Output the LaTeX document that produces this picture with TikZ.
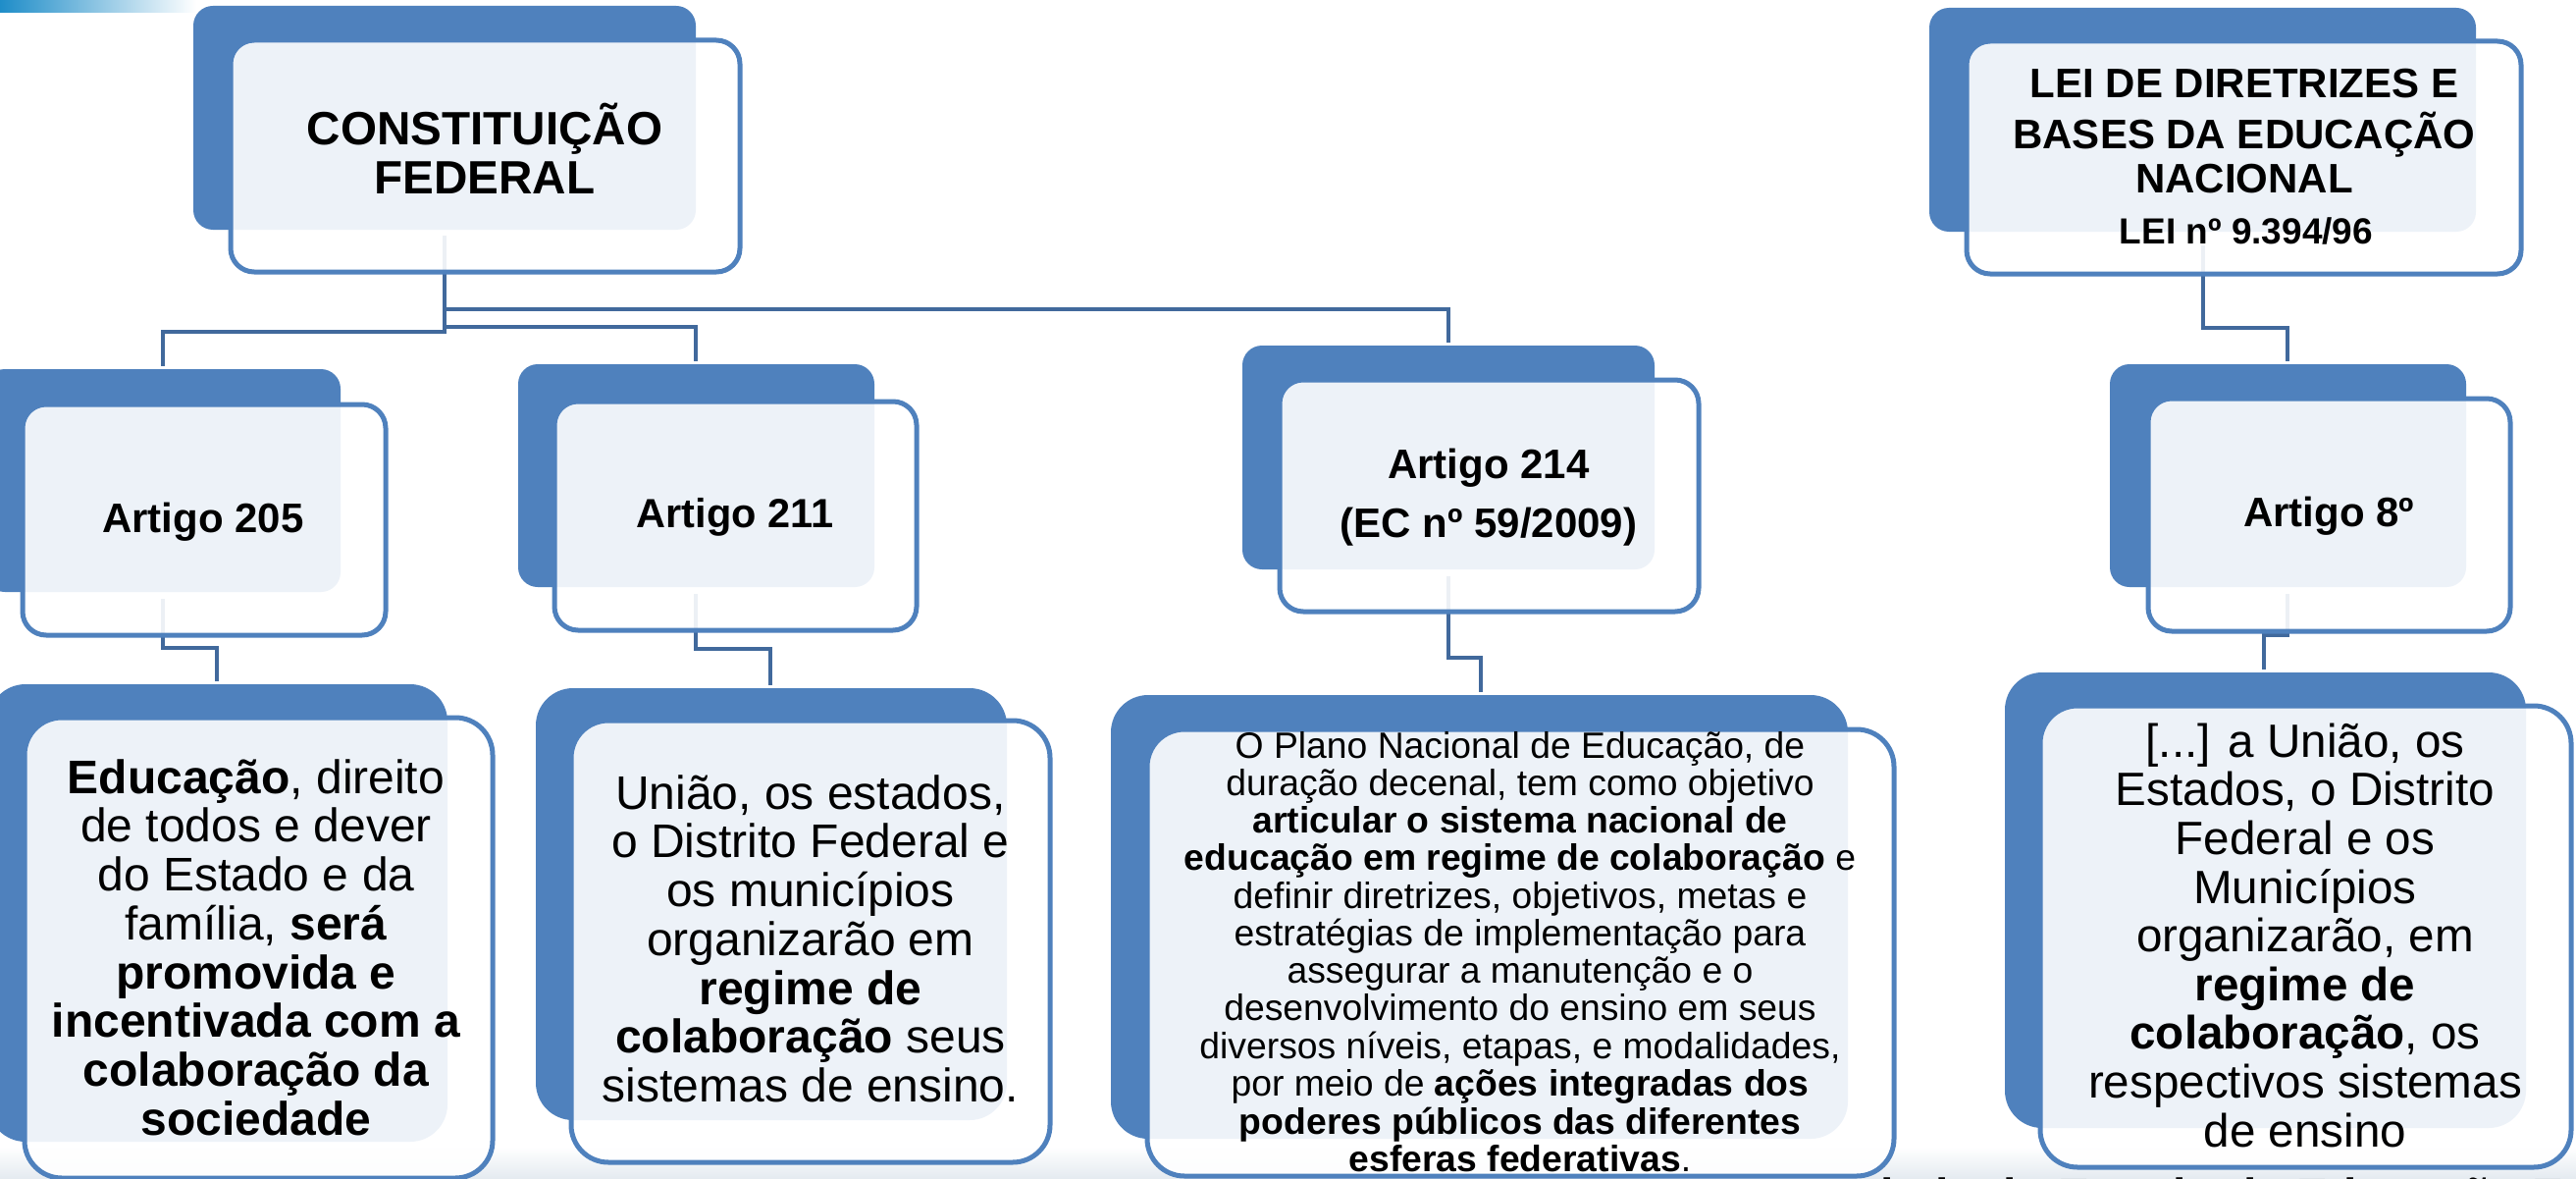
\documentclass[tikz,border=0pt]{standalone}
\usepackage{fontspec}
\setmainfont{Liberation Sans}
\definecolor{boxblue}{HTML}{4F81BD}
\definecolor{lineblue}{HTML}{41699C}
\definecolor{stripblue}{HTML}{1F8DC8}
\definecolor{bandgrey}{HTML}{E4EAF0}
\newcommand\mlines[1]{\begin{tabular}[t]{@{}c@{}}#1\end{tabular}}
\tikzset{
  backrect/.style={fill=boxblue, draw=none},
  frontrect/.style={draw=boxblue, line width=5pt, fill=white, fill opacity=0.9},
  conn/.style={draw=lineblue, line width=4.5pt, line join=miter},
  lbl/.style={anchor=base, inner sep=0pt, text=black},
}
\begin{document}
\begin{tikzpicture}[x=1pt, y=-1pt]
\useasboundingbox (0,0) rectangle (2625,1201);
\fill[white] (0,0) rectangle (2625,1201);
% bottom band
\shade[top color=white, bottom color=bandgrey] (0,1168) rectangle (2625,1201);
% top-left strip
\shade[left color=stripblue, right color=white] (0,0) rectangle (200,13);

% back rectangles
\path[backrect, rounded corners=20pt] (197,6) rectangle (709,234);
\path[backrect, rounded corners=20pt] (-15,376) rectangle (347,603);
\path[backrect, rounded corners=20pt] (528,371) rectangle (891,598);
\path[backrect, rounded corners=20pt] (1266,352) rectangle (1686,580);
\path[backrect, rounded corners=20pt] (1966,8) rectangle (2523,236);
\path[backrect, rounded corners=20pt] (2150,371) rectangle (2513,598);
\path[backrect, rounded corners=38pt] (-12,697) rectangle (456,1163);
\path[backrect, rounded corners=38pt] (546,701) rectangle (1026,1141);
\path[backrect, rounded corners=38pt] (1132,708) rectangle (1883,1160);
\path[backrect, rounded corners=38pt] (2043,685) rectangle (2574,1149);

% connector coordinates
\coordinate (cfS) at (453,240);
\coordinate (j214) at (1476,315);
\coordinate (j211) at (709,333);
\coordinate (j205) at (166,338);
\coordinate (a214T) at (1476,349);
\coordinate (a211T) at (709,368);
\coordinate (a205T) at (166,373);
\coordinate (a205S) at (166,610);
\coordinate (k1) at (221,660);
\coordinate (b1T) at (221,694);
\coordinate (a211S) at (709,605);
\coordinate (k2) at (785,661);
\coordinate (b2T) at (785,698);
\coordinate (a214S) at (1476,587);
\coordinate (k3) at (1509,670);
\coordinate (b3T) at (1509,705);
\coordinate (ldbS) at (2245,250);
\coordinate (k4) at (2331,334);
\coordinate (a8T) at (2331,368);
\coordinate (a8S) at (2331,605);
\coordinate (k5) at (2307,647);
\coordinate (b4T) at (2307,682);

\draw[conn] (cfS) |- (j214) -- (a214T);
\draw[conn] (cfS) |- (j211) -- (a211T);
\draw[conn] (cfS) |- (j205) -- (a205T);
\draw[conn] (a205S) |- (k1) -- (b1T);
\draw[conn] (a211S) |- (k2) -- (b2T);
\draw[conn] (a214S) |- (k3) -- (b3T);
\draw[conn] (ldbS) |- (k4) -- (a8T);
\draw[conn] (a8S) |- (k5) -- (b4T);

% front rectangles
\path[frontrect, rounded corners=24pt] (235,41) rectangle (754,277);
\path[frontrect, rounded corners=24pt] (23,412) rectangle (393,647);
\path[frontrect, rounded corners=24pt] (565,409) rectangle (934,642);
\path[frontrect, rounded corners=24pt] (1304,387) rectangle (1731,623);
\path[frontrect, rounded corners=24pt] (2004,42) rectangle (2569,279);
\path[frontrect, rounded corners=24pt] (2189,406) rectangle (2558,643);
\path[frontrect, rounded corners=38pt] (25,731) rectangle (502,1200);
\path[frontrect, rounded corners=38pt] (582,734) rectangle (1070,1184);
\path[frontrect, rounded corners=38pt] (1169,743) rectangle (1930,1198);
\path[frontrect, rounded corners=38pt] (2079,719) rectangle (2620,1189);

% texts
\node[lbl] (cf) at (494,148) {\fontsize{47.6}{50}\selectfont\bfseries\mlines{CONSTITUIÇÃO\\FEDERAL}};
\node[lbl] (a205) at (207,542) {\fontsize{42}{45}\selectfont\bfseries Artigo 205};
\node[lbl] (a211) at (749,537) {\fontsize{41.5}{45}\selectfont\bfseries Artigo 211};
\node[lbl] (a214) at (1517,487) {\fontsize{42}{60}\selectfont\bfseries\mlines{Artigo 214\\(EC nº 59/2009)}};
\node[lbl] (ldb) at (2287,100) {\fontsize{42}{45.5}\selectfont\bfseries\mlines{LEI DE DIRETRIZES E\\BASES DA EDUCAÇÃO\\NACIONAL}};
\node[lbl] (lei) at (2289,248) {\fontsize{37}{40}\selectfont\bfseries LEI nº 9.394/96};
\node[lbl] (a8) at (2373,536) {\fontsize{42}{45}\selectfont\bfseries Artigo 8º};

\node[lbl] (b1) at (261,808) {\fontsize{48}{49.6}\selectfont\mlines{\textbf{Educação}, direito\\de todos e dever\\do Estado e da\\família, \textbf{será}\\\textbf{promovida e}\\\textbf{incentivada com a}\\\textbf{colaboração da}\\\textbf{sociedade}}};
\node[lbl] (b2) at (826,824) {\fontsize{48}{49.5}\selectfont\mlines{União, os estados,\\o Distrito Federal e\\os municípios\\organizarão em\\\textbf{regime de}\\\textbf{colaboração} seus\\sistemas de ensino.}};
\node[lbl] (b3) at (1549,772) {\fontsize{37.3}{37.4}\selectfont\mlines{O Plano Nacional de Educação, de\\duração decenal, tem como objetivo\\\textbf{articular o sistema nacional de}\\\textbf{educação em regime de colaboração} e\\definir diretrizes, objetivos, metas e\\estratégias de implementação para\\assegurar a manutenção e o\\desenvolvimento do ensino em seus\\diversos níveis, etapas, e modalidades,\\por meio de \textbf{ações integradas dos}\\\textbf{poderes públicos das diferentes}\\\textbf{esferas federativas}.}};
\node[lbl] (b4) at (2349,771) {\fontsize{47.6}{49.6}\selectfont\mlines{[...] a União, os\\Estados, o Distrito\\Federal e os\\Municípios\\organizarão, em\\\textbf{regime de}\\\textbf{colaboração}, os\\respectivos sistemas\\de ensino}};

\node[anchor=base west, inner sep=0pt] (foot) at (1900,1234) {\fontsize{48}{50}\selectfont\bfseries dade do Estado da Educação E};
\end{tikzpicture}
\end{document}
